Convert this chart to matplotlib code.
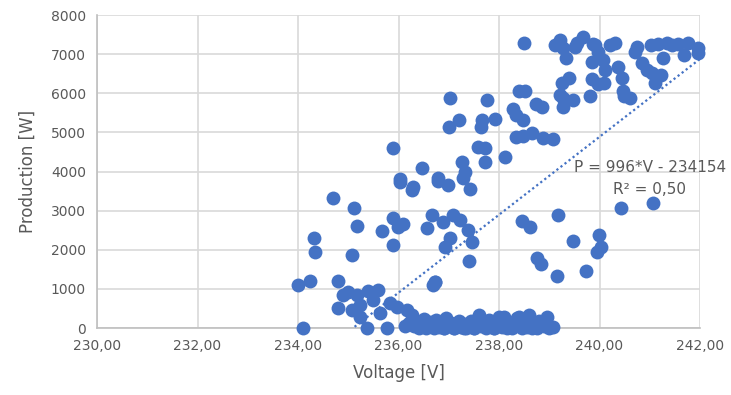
import numpy as np
import matplotlib
matplotlib.use("Agg")
import matplotlib.pyplot as plt
from matplotlib.ticker import FuncFormatter

# Точки: напряжение [V] и мощность [W]
upper_v = [234.0, 234.24, 234.32, 234.34, 234.7, 234.8, 235.07, 235.11, 235.17,
           235.67, 235.89, 235.89, 235.99, 236.09, 236.03, 236.27, 236.29, 235.89,
           236.47, 236.03, 236.57, 236.67, 236.73, 236.79, 236.99, 237.28, 237.42,
           236.89, 237.08, 237.22, 237.38, 237.46, 237.02, 236.93, 237.4,
           238.46, 238.62, 239.17, 239.47, 238.76, 238.84, 239.15,
           240.43, 241.07, 239.99, 240.03, 239.95, 239.73,
           238.5, 239.11, 239.21, 239.27, 239.33, 239.55, 239.25, 239.39, 239.21,
           239.27, 239.47, 239.27, 238.4, 238.52, 238.28, 238.34, 238.48, 238.74,
           238.86, 238.34, 238.48, 238.66, 238.88, 239.07, 238.12, 237.72, 237.58,
           237.72, 237.02, 237.76, 237.2, 237.0, 237.66, 237.64, 237.92, 237.26,
           237.32, 236.79,
           239.67, 239.91, 239.97, 240.21, 240.31, 239.51, 239.85, 240.07, 240.11,
           240.37, 240.45, 239.85, 239.81, 239.97, 240.09, 240.47, 240.49, 240.61,
           240.75, 240.71, 241.03, 241.16, 241.34, 241.56, 241.76, 241.96, 241.96,
           241.68, 241.26, 240.85, 240.95, 241.05, 241.22, 241.1, 239.87, 241.45]
upper_p = [1100, 1200, 2300, 1940, 3320, 1200, 1870, 3070, 2610,
           2480, 2810, 2120, 2580, 2660, 3730, 3530, 3600, 4600,
           4090, 3810, 2560, 2890, 1180, 3760, 3660, 3830, 3550,
           2710, 2890, 2760, 2500, 2200, 2300, 2070, 1710,
           2730, 2580, 2890, 2220, 1790, 1630, 1330,
           3070, 3200, 2380, 2070, 1940, 1460,
           7280, 7230, 7360, 7160, 6900, 7280, 6260, 6390, 5960,
           5880, 5830, 5650, 6060, 6060, 5600, 5450, 5320, 5730,
           5650, 4880, 4910, 4980, 4860, 4830, 4370, 4240, 4620,
           4600, 5880, 5830, 5320, 5140, 5320, 5140, 5340, 4240,
           3990, 3830,
           7440, 7230, 7050, 7230, 7280, 7180, 6800, 6850, 6590,
           6670, 6390, 6360, 5930, 6240, 6260, 6060, 5930, 5880,
           7180, 7050, 7230, 7260, 7280, 7260, 7280, 7160, 7030,
           6980, 6900, 6770, 6590, 6520, 6470, 6260, 7260, 7240]

low_v = [234.1, 234.8, 234.9, 235.0, 235.07, 235.17, 235.23, 235.23, 235.37,
         235.39, 235.49, 235.59, 235.63, 235.77, 235.83, 235.97, 236.13, 236.17,
         236.27, 236.69, 236.73,
         236.2, 236.3, 236.35, 236.4, 236.45, 236.5, 236.55, 236.6, 236.65, 236.7,
         236.75, 236.8, 236.85, 236.9, 236.95, 237.0, 237.05, 237.1, 237.15,
         237.2, 237.25, 237.3, 237.35, 237.4, 237.45, 237.5, 237.55, 237.6,
         237.65, 237.7, 237.75, 237.8, 237.85, 237.9, 237.95, 238.0, 238.05,
         238.1, 238.15, 238.2, 238.3, 238.35, 238.4, 238.45, 238.5, 238.55,
         238.6, 238.7, 238.75, 238.8, 238.9, 238.96, 239.0, 239.07, 236.9,
         237.1, 237.3, 237.5, 237.9, 238.25, 238.65]
low_p = [0, 510, 840, 920, 460, 840, 280, 590, 0,
         950, 720, 970, 380, 0, 640, 540, 50, 460,
         330, 1100, 1180,
         120, 40, 180, 0, 90, 230, 10, 60, 150, 0,
         200, 30, 110, 0, 260, 50, 140, 0, 80,
         170, 20, 110, 0, 60, 190, 0, 120, 330,
         40, 90, 0, 210, 60, 0, 150, 280, 30,
         280, 0, 110, 60, 250, 280, 0, 130, 20,
         330, 90, 0, 170, 60, 280, 0, 25, 0,
         0, 0, 0, 0, 0, 0]

# Линия тренда из Excel
slope = 996
intercept = -234154
r2_text = "0,50"

color = "#4472C4"
gray = "#595959"

fig = plt.figure(figsize=(7.31, 3.95), dpi=100)
ax = fig.add_axes([0.1327, 0.1696, 0.8249, 0.7924])

ax.scatter(upper_v + low_v, upper_p + low_p, s=100, color=color, zorder=3,
           clip_on=False, linewidths=0)

tv = np.linspace(234.0, 242.0, 200)
tp = slope * tv + intercept
mask = tp >= 0
ax.plot(tv[mask], tp[mask], color=color, lw=1.6, linestyle=(0, (1, 1.3)), zorder=4)

ax.text(241.0, 4100, "P = 996*V - 234154", ha="center", va="center",
        fontsize=11, color=gray, zorder=5)
ax.text(241.0, 3530, "R² = " + r2_text, ha="center", va="center",
        fontsize=11, color=gray, zorder=5)

ax.set_xlim(230, 242)
ax.set_ylim(0, 8000)
ax.set_xticks(np.arange(230, 243, 2))
ax.set_yticks(np.arange(0, 8001, 1000))
ax.xaxis.set_major_formatter(FuncFormatter(lambda x, p: f"{x:.2f}".replace(".", ",")))
ax.grid(True, color="#d9d9d9", lw=1.2)
ax.set_axisbelow(True)
ax.tick_params(length=0, labelsize=10, colors=gray, pad=8)
for s in ["top", "right"]:
    ax.spines[s].set_visible(False)
for s in ["left", "bottom"]:
    ax.spines[s].set_color("#bfbfbf")
    ax.spines[s].set_linewidth(1.2)

ax.set_xlabel("Voltage [V]", fontsize=12, color=gray, labelpad=8)
ax.set_ylabel("Production [W]", fontsize=12, color=gray, labelpad=10)

fig.savefig("out.png", dpi=100)
